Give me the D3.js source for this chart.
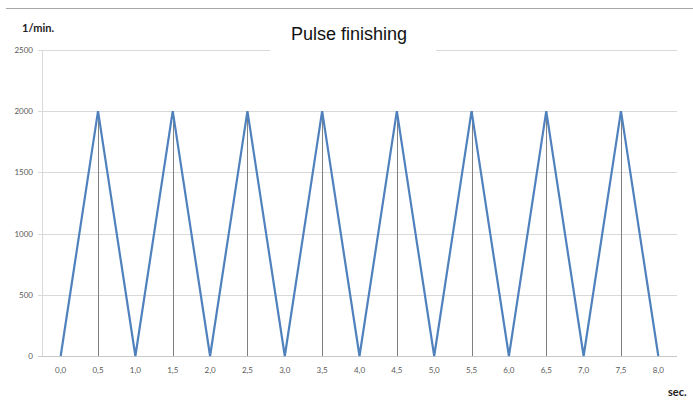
<!DOCTYPE html>
<html>
<head>
<meta charset="utf-8">
<script src="https://cdn.jsdelivr.net/npm/d3@7"></script>
<style>
  body { margin: 0; background: #fff; }
  svg { display: block; }
</style>
</head>
<body>
<svg id="chart" width="693" height="403"></svg>
<script>
// time points (sec.) and rpm values
const times = ["0,0", "0,5", "1,0", "1,5", "2,0", "2,5", "3,0", "3,5", "4,0",
               "4,5", "5,0", "5,5", "6,0", "6,5", "7,0", "7,5", "8,0"];
const rpm = [0, 2000, 0, 2000, 0, 2000, 0, 2000, 0, 2000, 0, 2000, 0, 2000, 0, 2000, 0];
const yTicks = [0, 500, 1000, 1500, 2000, 2500];

const svg = d3.select("#chart");

// plot area
const area = { left: 42, right: 677, top: 50, bottom: 356 };

const scX = d3.scalePoint()
    .domain(times)
    .range([area.left, area.right])
    .padding(0.5);

const scY = d3.scaleLinear()
    .domain([0, 2500])
    .range([area.bottom, area.top]);

const data = times.map((t, i) => ({ t: t, v: rpm[i] }));

// top border line
svg.append("line")
    .attr("x1", 6).attr("x2", 693)
    .attr("y1", 8.5).attr("y2", 8.5)
    .style("stroke", "#a6a6a6")
    .style("stroke-width", 1);

// horizontal gridlines
svg.append("g")
    .selectAll("line")
    .data(yTicks.filter(d => d > 0))
    .enter()
    .append("line")
    .attr("x1", area.left - 4)
    .attr("x2", area.right)
    .attr("y1", d => Math.round(scY(d)) + 0.5)
    .attr("y2", d => Math.round(scY(d)) + 0.5)
    .style("stroke", "#d9d9d9")
    .style("stroke-width", 1);

// y axis line
svg.append("line")
    .attr("x1", area.left + 0.5).attr("x2", area.left + 0.5)
    .attr("y1", area.top).attr("y2", area.bottom)
    .style("stroke", "#d9d9d9");

// x axis line
svg.append("line")
    .attr("x1", area.left - 4).attr("x2", area.right)
    .attr("y1", Math.round(scY(0)) + 0.5).attr("y2", Math.round(scY(0)) + 0.5)
    .style("stroke", "#c8c8c8");

// y tick labels
svg.append("g")
    .selectAll("text")
    .data(yTicks)
    .enter()
    .append("text")
    .attr("x", 33)
    .attr("y", d => scY(d) + 3)
    .attr("text-anchor", "end")
    .style("font-family", "Lato, 'Liberation Sans', sans-serif")
    .style("font-size", "8px")
    .style("fill", "#595959")
    .text(d => d);

// x tick labels
svg.append("g")
    .selectAll("text")
    .data(times)
    .enter()
    .append("text")
    .attr("x", d => scX(d))
    .attr("y", 373)
    .attr("text-anchor", "middle")
    .style("font-family", "Lato, 'Liberation Sans', sans-serif")
    .style("font-size", "8px")
    .style("fill", "#595959")
    .text(d => d);

// drop lines
svg.append("g")
    .selectAll("line")
    .data(data.filter(d => d.v > 0))
    .enter()
    .append("line")
    .attr("x1", d => Math.round(scX(d.t)) + 0.5)
    .attr("x2", d => Math.round(scX(d.t)) + 0.5)
    .attr("y1", d => scY(d.v))
    .attr("y2", scY(0))
    .style("stroke", "#808080")
    .style("stroke-width", 1);

// series line
const line = d3.line()
    .x(d => scX(d.t))
    .y(d => scY(d.v));

svg.append("path")
    .datum(data)
    .attr("d", line)
    .style("fill", "none")
    .style("stroke", "#4f81bd")
    .style("stroke-width", 2.2)
    .style("stroke-linejoin", "miter");

// title with white box over the top gridline
svg.append("rect")
    .attr("x", 270).attr("y", 20)
    .attr("width", 166).attr("height", 34)
    .style("fill", "#fff");

svg.append("text")
    .attr("x", 349)
    .attr("y", 40)
    .attr("text-anchor", "middle")
    .style("font-family", "'Liberation Sans', Arial, sans-serif")
    .style("font-size", "18px")
    .style("fill", "#111")
    .text("Pulse finishing");

// axis unit labels
svg.append("text")
    .attr("x", 22).attr("y", 32)
    .style("font-family", "Lato, 'Liberation Sans', sans-serif")
    .style("font-weight", "bold")
    .style("font-size", "11px")
    .style("fill", "#222")
    .text("1/min.");

svg.append("text")
    .attr("x", 668).attr("y", 396)
    .style("font-family", "Lato, 'Liberation Sans', sans-serif")
    .style("font-weight", "bold")
    .style("font-size", "11px")
    .style("fill", "#222")
    .text("sec.");
</script>
</body>
</html>
